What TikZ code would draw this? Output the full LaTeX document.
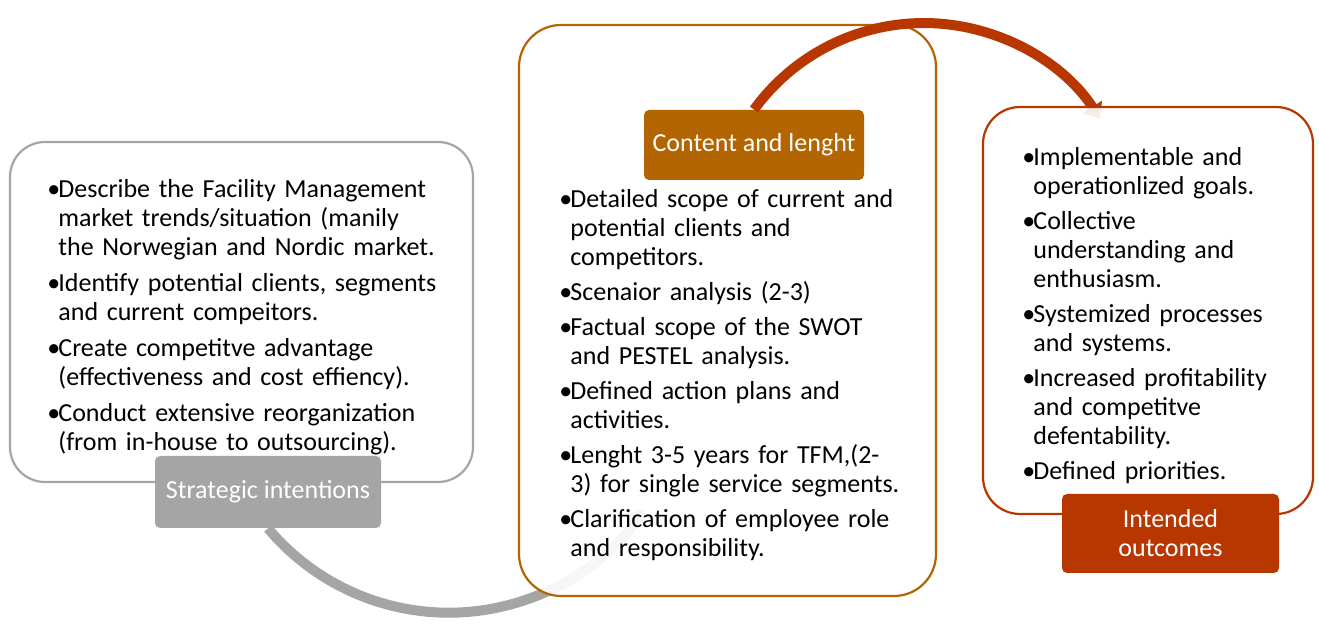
\documentclass[tikz,border=0pt]{standalone}
\usepackage{fontspec}
\setmainfont{Carlito}
\usepackage{tikz}
\usetikzlibrary{positioning,arrows.meta}

\definecolor{stratgray}{HTML}{A5A5A5}
\definecolor{contentbrown}{HTML}{B26500}
\definecolor{outcomered}{HTML}{B83600}

\begin{document}
\begin{tikzpicture}[x=0.5pt, y=0.5pt]
		\tikzset{boxstyle/.style={draw, line width=1.1pt, fill=white, fill opacity=0.9}}
		\tikzset{labelstyle/.style={rounded corners=2.5pt, text=white, align=center, inner sep=0pt, font=\fontsize{13}{14.5}\selectfont}}
		\tikzset{liststyle/.style={anchor=base west, text width=230pt, align=left, inner sep=0pt, font=\fontsize{13}{14.5}\selectfont}}
		\tikzset{cyclearc/.style={line width=5pt, -{Triangle[length=7pt, width=11pt]}}}
		
		%\draw[help lines, blue] (0,0) grid[step=50] (1319,-624);
		\useasboundingbox (0,0) rectangle (1319,-624);
		
		\newcommand\drawBox[7] % {x} {y} {width} {height} {radius} {colour} {name}
		{
			\node[
			boxstyle,
			draw=#6,
			rounded corners=#5pt,
			minimum width=#3*0.5pt,
			minimum height=#4*0.5pt
			] at (#1, #2) (#7) {};
		}
		
		\newcommand\drawLabel[6] % {x} {y} {width} {height} {colour} {name}
		{
			\node[
			labelstyle,
			fill=#5,
			minimum width=#3*0.5pt,
			minimum height=#4*0.5pt
			] at (#1, #2) (#6)
		}
		
		\newcommand\listItem[1]{\hangindent=5.5pt\hangafter=1\noindent\makebox[5.5pt][l]{\textbullet}#1\par}
		
		% strategic intentions
		\drawBox{241.5}{-312}{463}{340}{17.5}{stratgray}{stratbox}
		\node[liststyle] at (47,-198) (strattext) {\setlength{\parskip}{3.5pt}%
			\listItem{Describe the Facility Management\newline market trends/situation (manily\newline the Norwegian and Nordic market.}%
			\listItem{Identify potential clients, segments\newline and current compeitors.}%
			\listItem{Create competitve advantage\newline (effectiveness and cost effiency).}%
			\listItem{Conduct extensive reorganization\newline (from in-house to outsourcing).}};
		\drawLabel{268}{-492}{226}{72}{stratgray}{strat} {Strategic intentions};
		
		\draw[cyclearc, stratgray] (strat.south) arc[start angle=220, end angle=326, radius=236];
		
		% content and lenght
		\drawBox{727.5}{-310.5}{417}{571}{21}{contentbrown}{contentbox}
		\node[liststyle] at (559,-208) (contenttext) {\setlength{\parskip}{3pt}%
			\listItem{Detailed scope of current and\newline potential clients and\newline competitors.}%
			\listItem{Scenaior analysis (2-3)}%
			\listItem{Factual scope of the SWOT\newline and PESTEL analysis.}%
			\listItem{Defined action plans and\newline activities.}%
			\listItem{Lenght 3-5 years for TFM,(2-\newline 3) for single service segments.}%
			\listItem{Clarification of employee role\newline and responsibility.}};
		\drawLabel{754}{-145}{220}{70}{contentbrown}{content} {Content and lenght};
		
		\draw[cyclearc, outcomered] (content.north) arc[start angle=144, end angle=33, radius=210];
		
		% intended outcomes
		\drawBox{1148}{-310.5}{330}{407}{18.5}{outcomered}{outcomebox}
		\node[liststyle] at (1022,-166) (outcometext) {\setlength{\parskip}{3pt}%
			\listItem{Implementable and\newline operationlized goals.}%
			\listItem{Collective\newline understanding and\newline enthusiasm.}%
			\listItem{Systemized processes\newline and systems.}%
			\listItem{Increased profitability\newline and competitve\newline defentability.}%
			\listItem{Defined priorities.}};
		\drawLabel{1170.5}{-533.5}{217}{79}{outcomered}{outcome} {Intended\\outcomes};
		
\end{tikzpicture}
\end{document}
